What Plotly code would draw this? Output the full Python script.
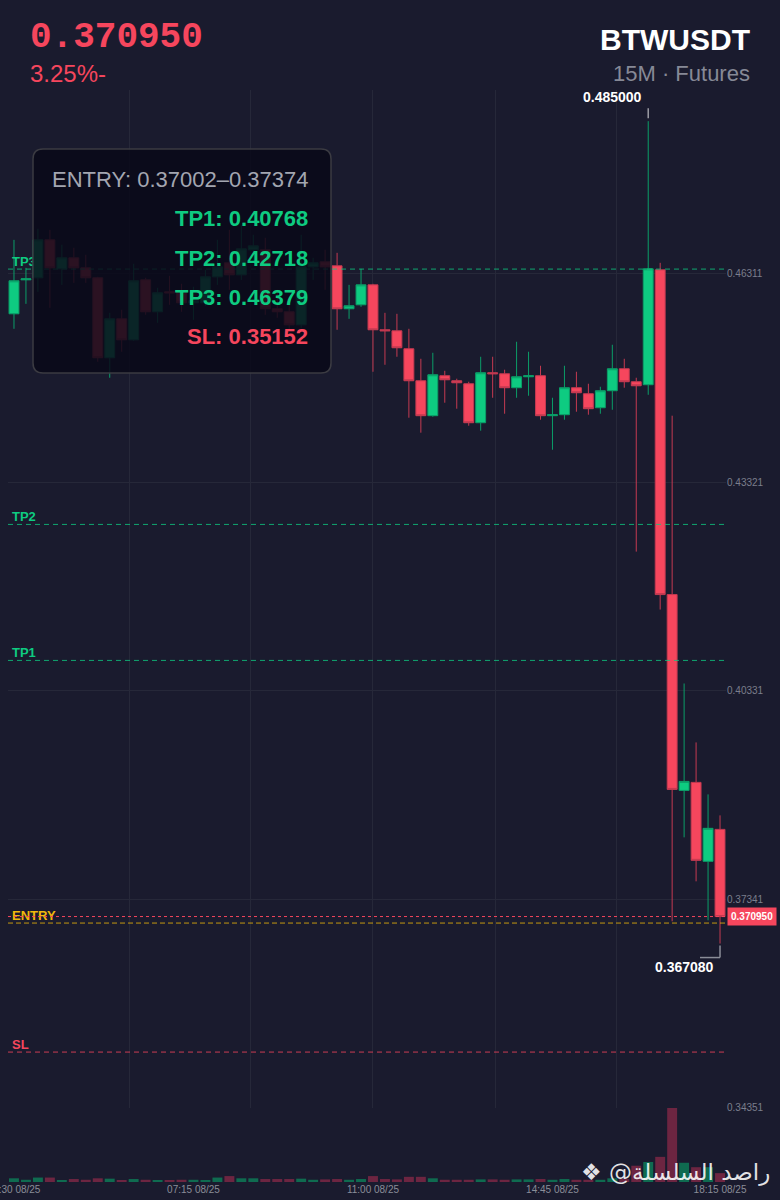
import pandas as pd
import plotly.graph_objects as go

# 15m candles, 03:30 -> 18:15 on 08/25
times = pd.date_range("2025-08-25 03:30", periods=60, freq="15min")

opens = [0.45738, 0.46225, 0.46254, 0.46798, 0.46383, 0.46540, 0.46397, 0.46254, 0.45108, 0.45666,
         0.45365, 0.46225, 0.45767, 0.46053, 0.46039, 0.45896, 0.45896, 0.46268, 0.46469, 0.46297,
         0.46655, 0.46655, 0.45810, 0.45767, 0.45580, 0.46411, 0.46483, 0.46426, 0.45810, 0.45867,
         0.46153, 0.45509, 0.45494, 0.45237, 0.44778, 0.44277, 0.44850, 0.44778, 0.44735, 0.44176,
         0.44893, 0.44878, 0.44678, 0.44835, 0.44850, 0.44277, 0.44291, 0.44678, 0.44592, 0.44391,
         0.44635, 0.44950, 0.44764, 0.44721, 0.46368, 0.41712, 0.38904, 0.39019, 0.37887, 0.38345]
highs = [0.46798, 0.46397, 0.46956, 0.46941, 0.46727, 0.46684, 0.46583, 0.46268, 0.45752, 0.45795,
         0.46454, 0.46254, 0.46110, 0.46282, 0.46168, 0.46125, 0.46368, 0.46798, 0.46941, 0.47013,
         0.46870, 0.46827, 0.46082, 0.45867, 0.46870, 0.46540, 0.46655, 0.46612, 0.46153, 0.46383,
         0.46168, 0.45752, 0.45738, 0.45523, 0.45093, 0.45179, 0.44921, 0.44807, 0.44764, 0.45122,
         0.45122, 0.44936, 0.45337, 0.45194, 0.44993, 0.44534, 0.44993, 0.44907, 0.44735, 0.44692,
         0.45294, 0.45093, 0.44821, 0.48500, 0.46469, 0.44277, 0.40437, 0.39592, 0.38847, 0.38546]
lows = [0.45523, 0.45881, 0.46053, 0.45824, 0.46153, 0.46182, 0.46182, 0.45050, 0.44821, 0.45194,
        0.45351, 0.45724, 0.45609, 0.45867, 0.45767, 0.45652, 0.45853, 0.46153, 0.46082, 0.46225,
        0.46483, 0.45724, 0.45681, 0.45509, 0.45537, 0.46225, 0.46082, 0.45509, 0.45666, 0.45838,
        0.44907, 0.45007, 0.45122, 0.44248, 0.44033, 0.44262, 0.44463, 0.44377, 0.44133, 0.44062,
        0.44534, 0.44305, 0.44534, 0.44563, 0.44219, 0.43789, 0.44219, 0.44334, 0.44291, 0.44305,
        0.44362, 0.44678, 0.42328, 0.44577, 0.41497, 0.37027, 0.38231, 0.37600, 0.37041, 0.36708]
closes = [0.46211, 0.46239, 0.46798, 0.46397, 0.46540, 0.46397, 0.46254, 0.45108, 0.45666, 0.45365,
          0.46211, 0.45767, 0.46039, 0.46039, 0.45896, 0.45924, 0.46268, 0.46411, 0.46297, 0.46669,
          0.46712, 0.45810, 0.45767, 0.45580, 0.46411, 0.46469, 0.46411, 0.45810, 0.45853, 0.46153,
          0.45509, 0.45494, 0.45251, 0.44778, 0.44277, 0.44864, 0.44792, 0.44749, 0.44176, 0.44893,
          0.44878, 0.44678, 0.44835, 0.44850, 0.44277, 0.44291, 0.44678, 0.44606, 0.44377, 0.44635,
          0.44950, 0.44764, 0.44706, 0.46383, 0.41712, 0.38918, 0.39033, 0.37901, 0.38360, 0.37095]
volumes = [5, 3, 6, 6, 2, 4, 3, 5, 4.5, 2,
           4, 3, 2, 2.5, 3, 3, 2, 6, 8, 5,
           5, 4, 4, 4, 4.5, 3, 3.5, 4, 3, 4,
           8, 4, 3.5, 7, 7, 5, 3, 3, 3, 3.5,
           3.5, 3, 3.5, 3.5, 4, 3, 4, 3, 3, 3,
           5, 4, 22, 27, 34, 100, 26, 20, 20, 12]

level_names = ["TP3", "TP2", "TP1", "ENTRY", "SL"]
level_values = [0.46379, 0.42718, 0.40768, 0.37002, 0.35152]
entry_high = 0.37374

price_ticks = [0.46311, 0.43321, 0.40331, 0.37341, 0.34351]
label_times = ["2025-08-25 03:30", "2025-08-25 07:15", "2025-08-25 11:00",
               "2025-08-25 14:45", "2025-08-25 18:15"]
grid_times = ["2025-08-25 03:22:30", "2025-08-25 05:55", "2025-08-25 08:27",
              "2025-08-25 11:00", "2025-08-25 13:33", "2025-08-25 16:05"]

symbol = "BTWUSDT"
change_txt = "3.25%-"

BG = "#1a1b2e"
GRID = "#262839"
GREEN = "#0ecb81"
RED = "#f6465d"
YELLOW = "#f0b90b"
level_colors = {"TP3": GREEN, "TP2": GREEN, "TP1": GREEN, "ENTRY": YELLOW, "SL": RED}

W, H = 780, 1200
ML, MR, MT, MB = 8, 54, 90, 18
PW, PH = W - ML - MR, H - MT - MB


def px(x):
    return (x - ML) / PW


def py(y):
    return (H - MB - y) / PH


vol_frac = py(1108)
last = closes[-1]

fig = go.Figure()

fig.add_trace(go.Candlestick(
    x=times, open=opens, high=highs, low=lows, close=closes,
    increasing=dict(fillcolor=GREEN, line=dict(color="#0b9e68", width=1)),
    decreasing=dict(fillcolor=RED, line=dict(color="#c43a51", width=1)),
    whiskerwidth=0, hoverinfo="skip", xaxis="x", yaxis="y",
))

vol_colors = ["#0f6b50" if c >= o else "#6d2541" for o, c in zip(opens, closes)]
fig.add_trace(go.Bar(x=times, y=volumes, marker=dict(color=vol_colors, line=dict(width=0)),
                     xaxis="x2", yaxis="y2", hoverinfo="skip"))

# labels of the level lines (as a trace so the info box can cover them)
fig.add_trace(go.Scatter(
    x=[times[0] - pd.Timedelta(minutes=2.5)] * len(level_names), y=level_values,
    mode="text", text=level_names, textposition="top right",
    textfont=dict(size=13, color=[level_colors[n] for n in level_names],
                  family="Liberation Sans", weight="bold"),
    hoverinfo="skip", xaxis="x", yaxis="y",
))

shapes = []
for name, val in zip(level_names, level_values):
    shapes.append(dict(type="line", xref="paper", yref="y", x0=0, x1=1, y0=val, y1=val,
                       line=dict(color=level_colors[name], width=1,
                                 dash="5px,4px" if name != "ENTRY" else "5px,3px"),
                       opacity=0.8, layer="above"))
shapes.append(dict(type="line", xref="paper", yref="y", x0=0, x1=1, y0=last, y1=last,
                   line=dict(color=RED, width=1, dash="3px,3px"), layer="above"))

# high / low connectors
i_hi = highs.index(max(highs))
i_lo = lows.index(min(lows))
shapes.append(dict(type="line", xref="x", yref="y", ysizemode="pixel", yanchor=highs[i_hi],
                   x0=times[i_hi], x1=times[i_hi], y0=3, y1=13,
                   line=dict(color="#9b9ca4", width=1.5), layer="above"))
shapes.append(dict(type="line", xref="x", yref="y", ysizemode="pixel", yanchor=lows[i_lo],
                   x0=times[i_lo], x1=times[i_lo], y0=-2, y1=-14,
                   line=dict(color="#8a8d98", width=1.5), layer="above"))
shapes.append(dict(type="line", xref="x", yref="y", xsizemode="pixel", ysizemode="pixel",
                   xanchor=times[i_lo], yanchor=lows[i_lo], x0=-20, x1=0, y0=-14, y1=-14,
                   line=dict(color="#8a8d98", width=1.5), layer="above"))

# rounded info box
bx0, bx1, by0, by1 = px(33), px(331), py(373), py(149)
rx, ry = 10 / PW, 10 / PH
box_path = (f"M{bx0 + rx},{by0} L{bx1 - rx},{by0} Q{bx1},{by0} {bx1},{by0 + ry} "
            f"L{bx1},{by1 - ry} Q{bx1},{by1} {bx1 - rx},{by1} L{bx0 + rx},{by1} "
            f"Q{bx0},{by1} {bx0},{by1 - ry} L{bx0},{by0 + ry} Q{bx0},{by0} {bx0 + rx},{by0} Z")
shapes.append(dict(type="path", xref="paper", yref="paper", path=box_path,
                   fillcolor="rgba(9,9,24,0.86)", line=dict(color="#3b3b42", width=1.5),
                   layer="above"))

ann = []
box_lines = [
    (f"ENTRY: {level_values[3]:.5f}–{entry_high:.5f}", "#a3a6b1", "normal", 179),
    (f"TP1: {level_values[2]:.5f}", GREEN, "bold", 218),
    (f"TP2: {level_values[1]:.5f}", GREEN, "bold", 258),
    (f"TP3: {level_values[0]:.5f}", GREEN, "bold", 297),
    (f"SL: {level_values[4]:.5f}", RED, "bold", 336),
]
for txt, col, wt, yy in box_lines:
    ann.append(dict(xref="paper", yref="paper", x=px(310), y=py(yy), xanchor="right",
                    yanchor="middle", text=txt, showarrow=False,
                    font=dict(size=22, color=col, weight=wt, family="Liberation Sans")))

# header
ann.append(dict(xref="paper", yref="paper", x=px(28), y=py(38), xanchor="left", yanchor="middle",
                text=f"{last:.6f}", showarrow=False,
                font=dict(size=36, color=RED, family="Liberation Mono", weight="bold")))
ann.append(dict(xref="paper", yref="paper", x=px(28), y=py(73), xanchor="left", yanchor="middle",
                text=change_txt, showarrow=False,
                font=dict(size=24, color=RED, family="Liberation Sans")))
ann.append(dict(xref="paper", yref="paper", x=px(752), y=py(40), xanchor="right", yanchor="middle",
                text=symbol, showarrow=False,
                font=dict(size=30, color="#ffffff", family="Liberation Sans", weight="bold")))
ann.append(dict(xref="paper", yref="paper", x=px(752), y=py(73), xanchor="right", yanchor="middle",
                text="15M · Futures", showarrow=False,
                font=dict(size=22, color="#868996", family="Liberation Sans")))

# high / low labels
ann.append(dict(xref="x", yref="y", x=times[i_hi], y=highs[i_hi], xanchor="right", yanchor="bottom",
                xshift=-4, yshift=14, text=f"{highs[i_hi]:.6f}", showarrow=False,
                font=dict(size=14, color="#ffffff", weight="bold")))
ann.append(dict(xref="x", yref="y", x=times[i_lo], y=lows[i_lo], xanchor="right", yanchor="top",
                xshift=-4, yshift=-13, text=f"{lows[i_lo]:.6f}", showarrow=False,
                font=dict(size=14, color="#ffffff", weight="bold")))

# last price tag
ann.append(dict(xref="paper", yref="y", x=1, y=last, xanchor="left", yanchor="middle", xshift=1,
                text=f"<b>{last:.6f}</b>", showarrow=False, bgcolor=RED, borderpad=3,
                font=dict(size=10, color="#ffffff")))

# watermark
ann.append(dict(xref="paper", yref="paper", x=px(772), y=py(1172), xanchor="right", yanchor="middle",
                text="\u200e❖ @راصد السلسلة", showarrow=False,
                font=dict(size=23, color="rgba(255,255,255,0.88)", family="DejaVu Sans")))

fig.update_layout(
    width=W, height=H, paper_bgcolor=BG, plot_bgcolor=BG,
    margin=dict(l=ML, r=MR, t=MT, b=MB, autoexpand=False), showlegend=False,
    boxgap=0.1, boxgroupgap=0.08, bargap=0.17,
    font=dict(family="Liberation Sans", color="#8a8d98"),
    shapes=shapes, annotations=ann,
    xaxis=dict(domain=[0, 1], anchor="y", type="date", automargin=False,
               range=["2025-08-25 03:22:30", "2025-08-25 18:22:30"],
               rangeslider=dict(visible=False), showticklabels=False,
               tickmode="array", tickvals=grid_times, showgrid=True, gridcolor=GRID,
               gridwidth=1, zeroline=False, showline=False, ticks=""),
    yaxis=dict(domain=[vol_frac, 1], range=[0.34350, 0.48947], side="right", automargin=False,
               tickmode="array", tickvals=price_ticks, ticktext=[f"{v:.5f}" for v in price_ticks],
               showgrid=True, gridcolor=GRID, gridwidth=1, zeroline=False, ticks="",
               tickfont=dict(size=10, color="#7b7e8c")),
    xaxis2=dict(domain=[0, 1], anchor="y2", type="date", matches="x", automargin=False,
                rangeslider=dict(visible=False), tickmode="array", tickvals=label_times,
                tickformat="%H:%M %m/%d", showgrid=False, zeroline=False, ticks="",
                ticklabeloverflow="allow", tickfont=dict(size=10, color="#8a8d98")),
    yaxis2=dict(domain=[0, vol_frac], range=[0, max(volumes)], visible=False, automargin=False),
)

fig.write_html("out.html", config={"displayModeBar": False},
               post_script="document.body.style.margin='0';")
